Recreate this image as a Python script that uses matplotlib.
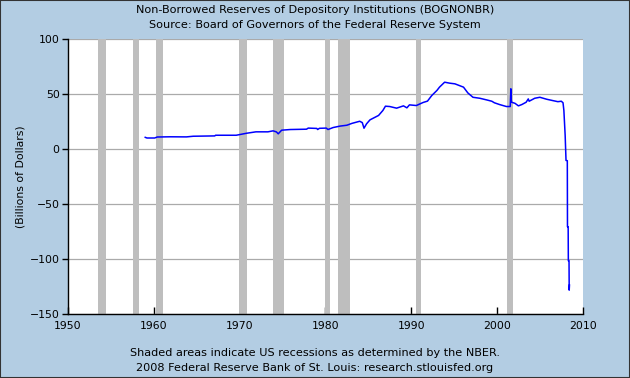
import matplotlib.pyplot as plt

# recession periods (NBER), decimal years
rec_start = [1953.5, 1957.6, 1960.3, 1969.9, 1973.85, 1980.0, 1981.5, 1990.55, 2001.2]
rec_end = [1954.4, 1958.3, 1961.1, 1970.9, 1975.2, 1980.55, 1982.9, 1991.2, 2001.9]

# Non-borrowed reserves, billions of dollars
years = [1959.0, 1959.2, 1960.1, 1960.4, 1961.9, 1963.8, 1964.6, 1967.1, 1967.2,
         1969.6, 1970.0, 1970.8, 1971.9, 1973.3, 1973.9, 1974.3, 1974.5, 1974.9,
         1975.9, 1977.8, 1978.0, 1979.0, 1979.1, 1979.3, 1980.1, 1980.3, 1980.9,
         1981.7, 1982.5, 1983.1, 1984.0, 1984.3, 1984.5, 1984.8, 1985.2, 1986.2,
         1986.7, 1987.0, 1987.5, 1988.3, 1989.1, 1989.5, 1989.8, 1990.6, 1991.4,
         1991.9, 1992.4, 1993.0, 1993.3, 1993.9, 1994.5, 1995.1, 1996.1, 1996.6,
         1997.2, 1998.0, 1998.8, 1999.4, 1999.7, 2000.3, 2001.1, 2001.55, 2001.62,
         2001.66, 2001.7, 2002.1, 2002.5, 2002.9, 2003.4, 2003.65, 2003.75, 2004.4,
         2005.0, 2005.8, 2006.5, 2007.1, 2007.5, 2007.7, 2007.8, 2007.95, 2008.05,
         2008.2, 2008.22, 2008.3, 2008.32, 2008.4, 2008.42, 2008.45]
values = [10.6, 10.0, 10.0, 10.9, 11.1, 11.0, 11.6, 11.9, 12.5,
          12.5, 13.1, 14.3, 15.6, 15.6, 16.5, 15.5, 13.8, 17.1,
          17.7, 18.0, 19.0, 18.7, 17.7, 18.8, 19.0, 17.7, 19.5,
          20.8, 21.6, 23.3, 25.2, 24.0, 18.9, 22.9, 26.5, 30.5,
          35.0, 38.9, 38.6, 37.1, 39.2, 37.4, 40.1, 39.5, 42.3,
          43.5, 48.6, 53.2, 56.2, 60.7, 59.8, 59.2, 56.2, 51.0,
          47.0, 46.1, 44.6, 43.4, 42.0, 40.4, 38.6, 38.6, 54.7,
          45.0, 42.5, 41.5, 39.2, 40.4, 42.5, 45.5, 43.4, 46.1,
          47.0, 45.2, 44.0, 43.0, 43.4, 42.0, 35.0, 12.3, -10.4,
          -10.6, -70.6, -70.6, -101.5, -101.5, -128.2, -123.6]

bg = '#B3CDE3'
fig = plt.figure(figsize=(6.3, 3.78), dpi=100, facecolor=bg)
ax = fig.add_axes([0.108, 0.169, 0.817, 0.728])
ax.set_facecolor('white')

for s, e in zip(rec_start, rec_end):
    ax.axvspan(s, e, color='#BEBEBE', lw=0, zorder=1)

ax.plot(years, values, color='#0000FF', lw=1.1, zorder=3)

ax.set_xlim(1950, 2010)
ax.set_ylim(-150, 100)
ax.set_xticks(range(1950, 2011, 10))
ax.set_yticks([-150, -100, -50, 0, 50, 100])
ax.yaxis.grid(True, color='#AAAAAA', lw=0.9, zorder=0)
ax.set_axisbelow(True)

for side in ['top', 'right']:
    ax.spines[side].set_visible(False)
for side in ['left', 'bottom']:
    ax.spines[side].set_color('black')
    ax.spines[side].set_linewidth(1.0)

ax.tick_params(axis='x', direction='in', length=5, width=1, labelsize=7.8, pad=5)
ax.tick_params(axis='y', direction='out', length=4, width=1, labelsize=7.8, pad=2)
ax.set_ylabel('(Billions of Dollars)', fontsize=7.8, labelpad=3)

fig.text(0.5, 0.973, 'Non-Borrowed Reserves of Depository Institutions (BOGNONBR)',
         ha='center', va='center', fontsize=8.1)
fig.text(0.5, 0.934, 'Source: Board of Governors of the Federal Reserve System',
         ha='center', va='center', fontsize=8.1)
fig.text(0.5, 0.066, 'Shaded areas indicate US recessions as determined by the NBER.',
         ha='center', va='center', fontsize=8.1)
fig.text(0.5, 0.026, '2008 Federal Reserve Bank of St. Louis: research.stlouisfed.org',
         ha='center', va='center', fontsize=8.1)

# thin dark border around the whole image
fig.add_artist(plt.Rectangle((0, 0), 1, 1, transform=fig.transFigure, fill=False,
                             edgecolor='#333333', lw=1.5))

plt.savefig('out.png', dpi=100, facecolor=bg)
